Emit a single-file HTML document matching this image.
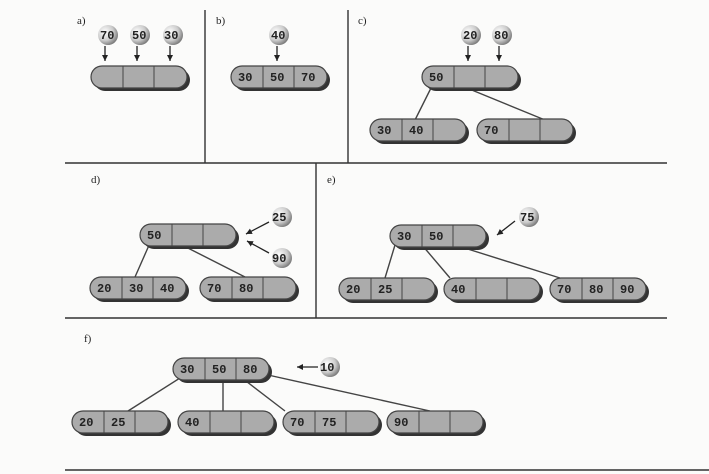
<!DOCTYPE html>
<html><head><meta charset="utf-8"><style>
html,body{margin:0;padding:0;background:#fbfbfa;}
svg{display:block;}
text{font-family:"Liberation Mono",monospace;font-weight:bold;font-size:12px;fill:#222;}
.lb{font-family:"Liberation Serif",serif;font-weight:normal;font-size:11px;}
</style></head><body>
<svg width="709" height="474" viewBox="0 0 709 474" xmlns="http://www.w3.org/2000/svg">
<defs>
<radialGradient id="bg" cx="0.35" cy="0.35" r="0.7"><stop offset="0" stop-color="#fff"/><stop offset="0.6" stop-color="#ccc"/><stop offset="1" stop-color="#777"/></radialGradient>
<g id="nd">
<rect x="3" y="3" width="96" height="22" rx="11" fill="#333"/>
<rect x="0" y="0" width="96" height="22" rx="11" fill="#ababab" stroke="#444" stroke-width="1.2"/>
<line x1="32" y1="0" x2="32" y2="22" stroke="#444"/><line x1="63" y1="0" x2="63" y2="22" stroke="#444"/>
</g>
<marker id="ar" markerUnits="userSpaceOnUse" markerWidth="7" markerHeight="7" refX="6" refY="3.5" orient="auto"><path d="M0,0.5 L6,3.5 L0,6.5z" fill="#222"/></marker>
</defs>
<g stroke="#333" stroke-width="1.4" fill="none">
<line x1="65" y1="163" x2="667" y2="163"/>
<line x1="205" y1="10" x2="205" y2="163"/>
<line x1="348" y1="10" x2="348" y2="163"/>
<line x1="316" y1="163" x2="316" y2="318"/>
<line x1="65" y1="318" x2="667" y2="318"/>
<line x1="65" y1="470" x2="709" y2="470"/>
</g>
<text class="lb" x="77" y="24">a)</text>
<text class="lb" x="216" y="24">b)</text>
<text class="lb" x="358" y="24">c)</text>
<text class="lb" x="91" y="183">d)</text>
<text class="lb" x="327" y="183">e)</text>
<text class="lb" x="84" y="342">f)</text>
<g fill="url(#bg)">
<circle cx="108" cy="35" r="10"/><circle cx="140" cy="35" r="10"/><circle cx="173" cy="35" r="10"/>
<circle cx="279" cy="35" r="10"/>
<circle cx="471" cy="35" r="10"/><circle cx="502" cy="35" r="10"/>
<circle cx="282" cy="217" r="10"/><circle cx="282" cy="258" r="10"/>
<circle cx="529" cy="217" r="10"/>
<circle cx="330" cy="367" r="10"/>
</g>
<text x="100" y="39">70</text><text x="132" y="39">50</text><text x="164" y="39">30</text>
<text x="271" y="39">40</text>
<text x="463" y="39">20</text><text x="494" y="39">80</text>
<text x="272" y="221">25</text><text x="272" y="262">90</text>
<text x="520" y="221">75</text>
<text x="320" y="371">10</text>
<g stroke="#222" stroke-width="1.3" marker-end="url(#ar)">
<line x1="105" y1="46" x2="105" y2="61"/><line x1="137" y1="46" x2="137" y2="61"/><line x1="170" y1="46" x2="170" y2="61"/>
<line x1="277" y1="46" x2="277" y2="61"/>
<line x1="468" y1="46" x2="468" y2="61"/><line x1="499" y1="46" x2="499" y2="61"/>
<line x1="269" y1="222" x2="246" y2="234"/><line x1="269" y1="253" x2="247" y2="241"/>
<line x1="515" y1="221" x2="497" y2="235"/>
<line x1="318" y1="367" x2="297" y2="367"/>
</g>
<g stroke="#444" stroke-width="1.4">
<line x1="432" y1="86" x2="415" y2="120"/><line x1="462" y1="86" x2="545" y2="120"/>
<line x1="150" y1="243" x2="135" y2="277"/><line x1="178" y1="243" x2="245" y2="277"/>
<line x1="395" y1="245" x2="385" y2="278"/><line x1="422" y1="245" x2="450" y2="278"/><line x1="455" y1="245" x2="560" y2="278"/>
<line x1="180" y1="378" x2="128" y2="411"/><line x1="223" y1="378" x2="223" y2="411"/><line x1="242" y1="378" x2="285" y2="411"/><line x1="268" y1="375" x2="430" y2="411"/>
</g>
<use href="#nd" x="91" y="66"/>
<use href="#nd" x="231" y="66"/><text x="238" y="81">30</text><text x="270" y="81">50</text><text x="301" y="81">70</text>
<use href="#nd" x="422" y="66"/><text x="429" y="81">50</text>
<use href="#nd" x="370" y="119"/><text x="377" y="134">30</text><text x="409" y="134">40</text>
<use href="#nd" x="477" y="119"/><text x="484" y="134">70</text>
<use href="#nd" x="140" y="224"/><text x="147" y="239">50</text>
<use href="#nd" x="90" y="277"/><text x="97" y="292">20</text><text x="129" y="292">30</text><text x="160" y="292">40</text>
<use href="#nd" x="200" y="277"/><text x="207" y="292">70</text><text x="239" y="292">80</text>
<use href="#nd" x="390" y="225"/><text x="397" y="240">30</text><text x="429" y="240">50</text>
<use href="#nd" x="339" y="278"/><text x="346" y="293">20</text><text x="378" y="293">25</text>
<use href="#nd" x="444" y="278"/><text x="451" y="293">40</text>
<use href="#nd" x="550" y="278"/><text x="557" y="293">70</text><text x="589" y="293">80</text><text x="620" y="293">90</text>
<use href="#nd" x="173" y="358"/><text x="180" y="373">30</text><text x="212" y="373">50</text><text x="243" y="373">80</text>
<use href="#nd" x="72" y="411"/><text x="79" y="426">20</text><text x="111" y="426">25</text>
<use href="#nd" x="178" y="411"/><text x="185" y="426">40</text>
<use href="#nd" x="283" y="411"/><text x="290" y="426">70</text><text x="322" y="426">75</text>
<use href="#nd" x="387" y="411"/><text x="394" y="426">90</text>
</svg>
</body></html>
